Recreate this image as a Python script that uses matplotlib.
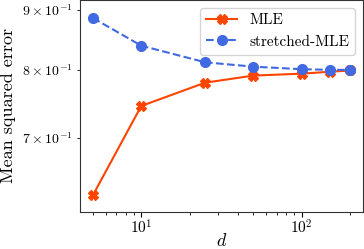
import matplotlib
matplotlib.use("Agg")
import matplotlib.pyplot as plt

d_values = [5, 10, 25, 50, 100, 150, 200]
mse_mle = [0.625, 0.745, 0.780, 0.791, 0.794, 0.797, 0.799]
mse_stretched = [0.886, 0.839, 0.812, 0.805, 0.801, 0.800, 0.800]

plt.rcParams['font.family'] = 'cmr10'
plt.rcParams['mathtext.fontset'] = 'cm'
plt.rcParams['axes.formatter.use_mathtext'] = True

fig = plt.figure(figsize=(3.64, 2.49), dpi=100)
ax = fig.add_axes([0.22, 0.15, 0.777, 0.85])

ax.plot(d_values, mse_mle, color='orangered', marker='X', markersize=7,
        linewidth=1.5, label='MLE')
ax.plot(d_values, mse_stretched, color='royalblue', marker='o', markersize=7,
        linewidth=1.5, linestyle='--', label='stretched-MLE')

ax.set_xscale('log')
ax.set_yscale('log')
ax.set_ylim(0.605, 0.918)
ax.set_xlabel(r'$d$', fontsize=13)
ax.xaxis.set_label_coords(0.5, -0.095)
ax.set_ylabel('Mean squared error', fontsize=13)
ax.tick_params(labelsize=11, pad=1.5)
for s in ax.spines.values():
    s.set_color('#333333')

ax.legend(loc='upper right', fontsize=11)
fig.savefig('out.png', dpi=100)
